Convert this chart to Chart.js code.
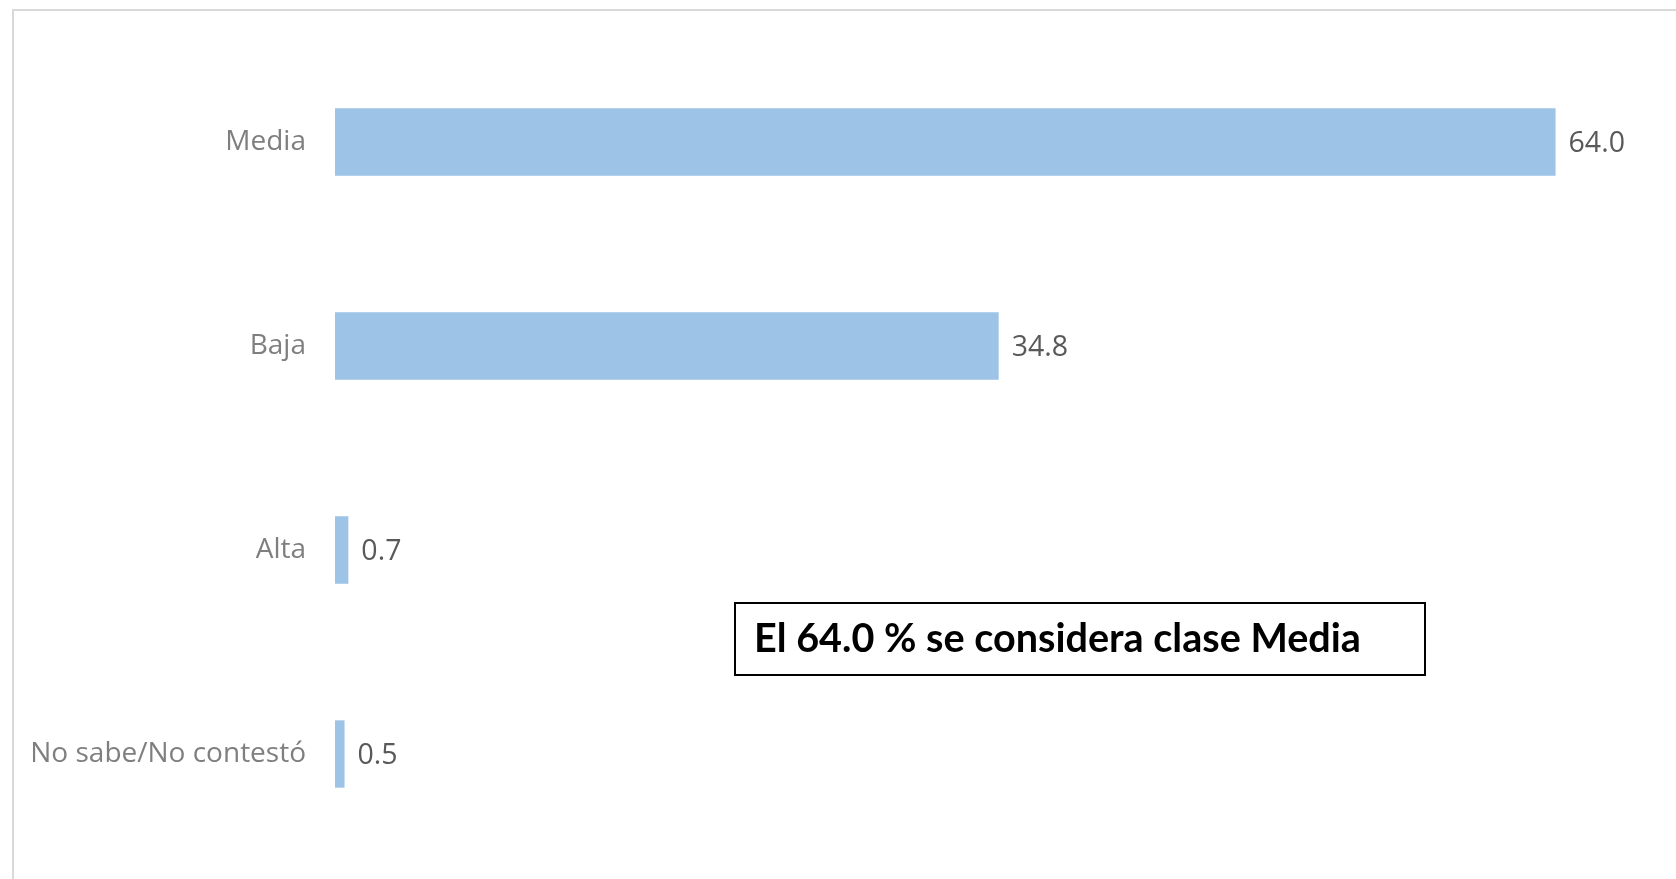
<!DOCTYPE html>
<html>
<head>
<meta charset="utf-8">
<script src="https://cdn.jsdelivr.net/npm/chart.js@4.4.0/dist/chart.umd.min.js"></script>
<style>
  html, body { margin: 0; padding: 0; background: #ffffff; overflow: hidden; }
  #wrap { position: relative; width: 1676px; height: 879px; }
</style>
</head>
<body>
<div id="wrap"><canvas id="barChart" width="1676" height="879"></canvas></div>
<script>
// Datos del gráfico
const categorias = ['Media', 'Baja', 'Alta', 'No sabe/No contestó'];
const porcentajes = [64.0, 34.8, 0.7, 0.5];
const ejeMax = 70;
const textoNota = 'El 64.0 % se considera clase Media';

// Marco gris claro y cuadro de texto
const marcoPlugin = {
    id: 'marco',
    beforeDraw(chart) {
        const ctx = chart.ctx;
        ctx.save();
        ctx.fillStyle = '#ffffff';
        ctx.fillRect(0, 0, chart.width, chart.height);
        ctx.strokeStyle = '#d9d9d9';
        ctx.lineWidth = 2;
        ctx.strokeRect(13, 10, 1800, 1000);
        ctx.restore();
    },
    afterDraw(chart) {
        const ctx = chart.ctx;
        ctx.save();
        ctx.strokeStyle = '#000000';
        ctx.lineWidth = 2;
        ctx.strokeRect(735, 603, 690, 72);
        ctx.fillStyle = '#000000';
        ctx.font = 'bold 39.6px Lato';
        ctx.textBaseline = 'middle';
        ctx.textAlign = 'left';
        ctx.fillText(textoNota, 754, 639);
        ctx.restore();
    }
};

// Etiquetas de valor al final de cada barra
const etiquetasPlugin = {
    id: 'etiquetas',
    afterDatasetsDraw(chart) {
        const ctx = chart.ctx;
        const meta = chart.getDatasetMeta(0);
        ctx.save();
        ctx.fillStyle = '#595959';
        ctx.font = '28.5px "Open Sans"';
        ctx.textBaseline = 'middle';
        ctx.textAlign = 'left';
        meta.data.forEach((bar, i) => {
            ctx.fillText(porcentajes[i].toFixed(1), bar.x + 13, bar.y + 2);
        });
        ctx.restore();
    }
};

const ctx = document.getElementById('barChart').getContext('2d');
new Chart(ctx, {
    type: 'bar',
    data: {
        labels: categorias,
        datasets: [{
            data: porcentajes,
            backgroundColor: '#9dc3e6',
            borderWidth: 0,
            barPercentage: 1,
            categoryPercentage: 0.33
        }]
    },
    options: {
        indexAxis: 'y',
        responsive: false,
        animation: false,
        layout: { padding: { top: 40, bottom: 23, right: 6, left: 0 } },
        plugins: {
            legend: { display: false },
            tooltip: { enabled: false }
        },
        scales: {
            x: {
                display: false,
                min: 0,
                max: ejeMax
            },
            y: {
                afterFit: (scale) => { scale.width = 335; },
                border: { display: false },
                // marcas invisibles: sólo separan las etiquetas de las barras
                grid: { display: false, drawTicks: true, tickLength: 29 },
                ticks: {
                    padding: 0,
                    color: '#7f7f7f',
                    font: { family: '"Open Sans"', size: 28 }
                }
            }
        }
    },
    plugins: [marcoPlugin, etiquetasPlugin]
});
</script>
</body>
</html>
